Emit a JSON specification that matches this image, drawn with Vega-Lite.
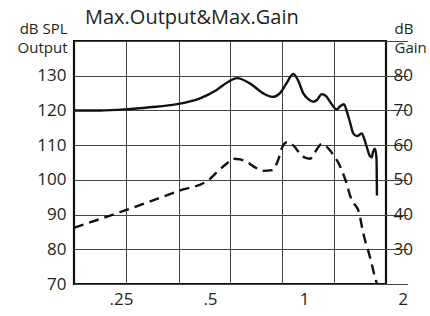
{
  "$schema": "https://vega.github.io/schema/vega-lite/v6.json",
  "width": 312,
  "height": 243,
  "autosize": {"type": "none"},
  "padding": {"left": 74, "top": 41, "right": 44, "bottom": 32},
  "background": "white",
  "title": {
    "text": "Max.Output&Max.Gain",
    "anchor": "start",
    "frame": "group",
    "dx": 11,
    "fontSize": 20,
    "font": "Open Sans",
    "fontWeight": "normal",
    "color": "#231f20",
    "baseline": "alphabetic",
    "offset": -23
  },
  "config": {
    "view": {"stroke": "#111", "strokeWidth": 2.2},
    "axis": {
      "ticks": false,
      "domain": false,
      "labelFont": "Open Sans",
      "labelFontSize": 17,
      "labelColor": "#231f20",
      "titleFont": "Open Sans",
      "titleFontSize": 15,
      "titleFontWeight": "normal",
      "titleColor": "#231f20",
      "gridColor": "#444",
      "gridWidth": 1,
      "gridOpacity": 1
    }
  },
  "datasets": {
    "output": [
      {"freq": 0.1735, "db": 120.0},
      {"freq": 0.212, "db": 120.0},
      {"freq": 0.258, "db": 120.3},
      {"freq": 0.313, "db": 120.9},
      {"freq": 0.386, "db": 121.8},
      {"freq": 0.4626, "db": 123.5},
      {"freq": 0.525, "db": 125.9},
      {"freq": 0.571, "db": 128.2},
      {"freq": 0.61, "db": 129.3},
      {"freq": 0.671, "db": 127.8},
      {"freq": 0.741, "db": 124.9},
      {"freq": 0.793, "db": 123.9},
      {"freq": 0.838, "db": 125.0},
      {"freq": 0.876, "db": 127.6},
      {"freq": 0.924, "db": 130.5},
      {"freq": 0.957, "db": 128.7},
      {"freq": 0.995, "db": 124.9},
      {"freq": 1.027, "db": 123.3},
      {"freq": 1.064, "db": 122.5},
      {"freq": 1.091, "db": 123.0},
      {"freq": 1.126, "db": 124.7},
      {"freq": 1.159, "db": 124.1},
      {"freq": 1.198, "db": 122.1},
      {"freq": 1.245, "db": 120.3},
      {"freq": 1.273, "db": 121.2},
      {"freq": 1.307, "db": 121.8},
      {"freq": 1.334, "db": 119.5},
      {"freq": 1.361, "db": 116.6},
      {"freq": 1.391, "db": 113.4},
      {"freq": 1.426, "db": 112.6},
      {"freq": 1.472, "db": 113.4},
      {"freq": 1.495, "db": 112.0},
      {"freq": 1.522, "db": 109.5},
      {"freq": 1.556, "db": 106.8},
      {"freq": 1.574, "db": 106.5},
      {"freq": 1.587, "db": 108.0},
      {"freq": 1.609, "db": 109.0},
      {"freq": 1.625, "db": 106.2},
      {"freq": 1.63, "db": 95.5}
    ],
    "gain": [
      {"freq": 0.1735, "db": 36.2},
      {"freq": 0.258, "db": 41.2},
      {"freq": 0.391, "db": 46.8},
      {"freq": 0.493, "db": 49.9},
      {"freq": 0.53, "db": 52.5},
      {"freq": 0.566, "db": 54.7},
      {"freq": 0.594, "db": 56.1},
      {"freq": 0.624, "db": 55.9},
      {"freq": 0.655, "db": 55.2},
      {"freq": 0.697, "db": 53.6},
      {"freq": 0.741, "db": 52.6},
      {"freq": 0.79, "db": 52.8},
      {"freq": 0.8075, "db": 53.7},
      {"freq": 0.832, "db": 56.5},
      {"freq": 0.848, "db": 59.0},
      {"freq": 0.869, "db": 60.6},
      {"freq": 0.89, "db": 60.9},
      {"freq": 0.929, "db": 59.7},
      {"freq": 0.971, "db": 57.6},
      {"freq": 1.007, "db": 56.4},
      {"freq": 1.041, "db": 56.1},
      {"freq": 1.077, "db": 58.0},
      {"freq": 1.126, "db": 60.3},
      {"freq": 1.159, "db": 59.7},
      {"freq": 1.19, "db": 58.5},
      {"freq": 1.231, "db": 56.4},
      {"freq": 1.256, "db": 55.1},
      {"freq": 1.287, "db": 52.8},
      {"freq": 1.331, "db": 48.9},
      {"freq": 1.361, "db": 45.5},
      {"freq": 1.389, "db": 43.5},
      {"freq": 1.417, "db": 42.4},
      {"freq": 1.439, "db": 41.2},
      {"freq": 1.488, "db": 34.5},
      {"freq": 1.556, "db": 27.7},
      {"freq": 1.609, "db": 21.9},
      {"freq": 1.628, "db": 20.1}
    ]
  },
  "layer": [
    {
      "data": {"name": "output"},
      "mark": {"type": "line", "color": "#111", "strokeWidth": 2.4, "interpolate": "monotone", "clip": true},
      "encoding": {
        "x": {
          "field": "freq",
          "type": "quantitative",
          "scale": {"type": "log", "domain": [0.1735, 0.25, 0.5, 1, 2], "range": [0, 47, 136, 230, 333.5], "nice": false, "zero": false},
          "axis": {"orient": "bottom", "values": [0.2599, 0.3913, 0.5795, 0.8503, 1.2225], "labels": false, "grid": true, "title": null}
        },
        "y": {
          "field": "db",
          "type": "quantitative",
          "scale": {"domain": [70, 140], "nice": false, "zero": false},
          "axis": {
            "orient": "left",
            "values": [70, 80, 90, 100, 110, 120, 130, 140],
            "labelExpr": "datum.value == 140 ? '' : datum.label",
            "grid": true,
            "labelPadding": 8,
            "title": ["dB  SPL", "Output"],
            "titleAngle": 0,
            "titleAlign": "right",
            "titleBaseline": "alphabetic",
            "titleX": -7,
            "titleY": -8,
            "titleLineHeight": 19
          }
        }
      }
    },
    {
      "data": {"name": "gain"},
      "mark": {"type": "line", "color": "#111", "strokeWidth": 2.4, "strokeDash": [10, 6], "interpolate": "monotone", "clip": true},
      "encoding": {
        "x": {
          "field": "freq",
          "type": "quantitative",
          "axis": {
            "orient": "bottom",
            "values": [0.25, 0.5, 1, 2],
            "labelExpr": "datum.value == 0.25 ? '.25' : datum.value == 0.5 ? '.5' : datum.label",
            "grid": false,
            "labelPadding": 7,
            "title": null
          }
        },
        "y": {
          "field": "db",
          "type": "quantitative",
          "scale": {"domain": [20, 90], "nice": false, "zero": false},
          "axis": {
            "orient": "right",
            "values": [30, 40, 50, 60, 70, 80],
            "grid": false,
            "labelPadding": 7,
            "title": ["dB", "Gain"],
            "titleAngle": 0,
            "titleAlign": "left",
            "titleBaseline": "alphabetic",
            "titleX": 8,
            "titleY": -8,
            "titleLineHeight": 19
          }
        }
      }
    }
  ],
  "resolve": {"scale": {"y": "independent"}, "axis": {"x": "independent"}}
}
